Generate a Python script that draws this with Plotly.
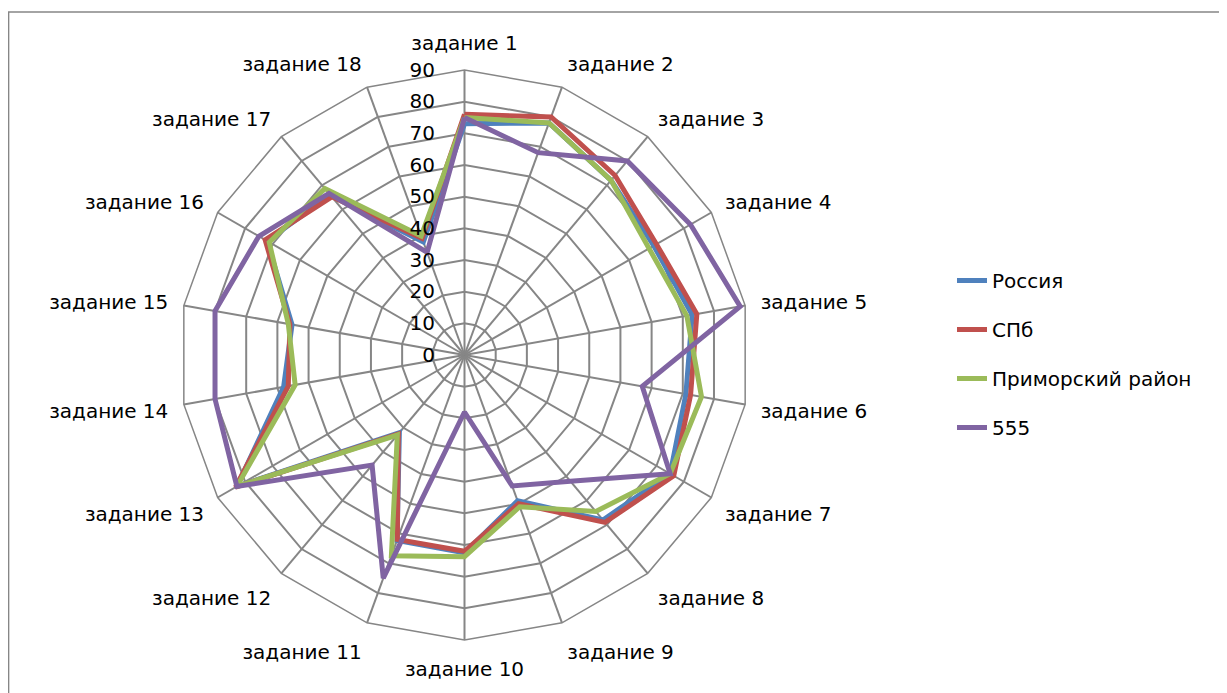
import plotly.graph_objects as go

categories = ["задание %d" % i for i in range(1, 19)]
radial_ticks = [0, 10, 20, 30, 40, 50, 60, 70, 80, 90]

russia = [73, 78, 72, 69, 73, 71, 75, 68, 49, 62.5, 62.3, 32, 83, 58, 55.3, 72, 66, 38]
spb = [76, 80, 74, 70, 74.5, 72.5, 76.3, 69, 50, 62, 62, 32.5, 83.5, 56.5, 56, 72.7, 65.2, 39.2]
primorsky = [75, 78, 72, 67.3, 71.3, 76, 75, 64.5, 51, 63.7, 67.5, 33, 83, 54.3, 56.5, 71.2, 68.6, 40]
s555 = [75, 68, 80, 82.4, 88.4, 57, 75, 52, 44, 18, 75, 45.4, 83, 80, 80, 75, 66.6, 34.5]

series_names = ["Россия", "СПб", "Приморский район", "555"]
series_values = [russia, spb, primorsky, s555]
colors = ["#4F81BD", "#C0504D", "#9BBB59", "#8064A2"]

FONT = "DejaVu Sans"
FS = 20
fig = go.Figure()
for i, (name, vals, col) in enumerate(zip(series_names, series_values, colors)):
    fig.add_trace(go.Scatterpolar(
        r=vals + [vals[0]],
        theta=categories + [categories[0]],
        mode="lines",
        name=name,
        legendgroup="g%d" % i,
        line=dict(color=col, width=5),
    ))

W, H = 1227, 693
OFF = 8  # page body margin
cx, cy_top, R = 464.5 - OFF, 355 - OFF, 285
cy = H - cy_top

fig.update_layout(
    width=W, height=H,
    margin=dict(l=0, r=0, t=0, b=0),
    paper_bgcolor="white",
    plot_bgcolor="white",
    font=dict(family=FONT, size=FS, color="black"),
    polar=dict(
        domain=dict(x=[(cx - R) / W, (cx + R) / W], y=[(cy - R) / H, (cy + R) / H]),
        bgcolor="white",
        gridshape="linear",
        angularaxis=dict(
            rotation=90,
            direction="clockwise",
            showline=True,
            linecolor="#868686",
            linewidth=1.5,
            gridcolor="#868686",
            gridwidth=1.5,
            ticks="outside",
            ticklen=11,
            tickcolor="rgba(0,0,0,0)",
            tickfont=dict(family=FONT, size=FS, color="black"),
        ),
        radialaxis=dict(
            range=[0, 90],
            tickvals=radial_ticks,
            ticktext=[str(v) for v in radial_ticks],
            angle=90,
            tickangle=90,
            side="counterclockwise",
            showline=False,
            gridcolor="#868686",
            gridwidth=1.5,
            ticks="outside",
            ticklen=22,
            tickcolor="rgba(0,0,0,0)",
            tickfont=dict(family=FONT, size=FS, color="black"),
        ),
    ),
    legend=dict(
        x=944 / W, y=1 - 253 / H, xanchor="left", yanchor="top",
        font=dict(family=FONT, size=FS, color="black"),
        tracegroupgap=20,
        bgcolor="rgba(0,0,0,0)",
    ),
    shapes=[dict(type="rect", xref="paper", yref="paper",
                 x0=0.6 / W, x1=1.01, y0=-0.01, y1=1 - 4 / H,
                 line=dict(color="#868686", width=1.5), layer="below")],
)

fig.write_html("out.html")
